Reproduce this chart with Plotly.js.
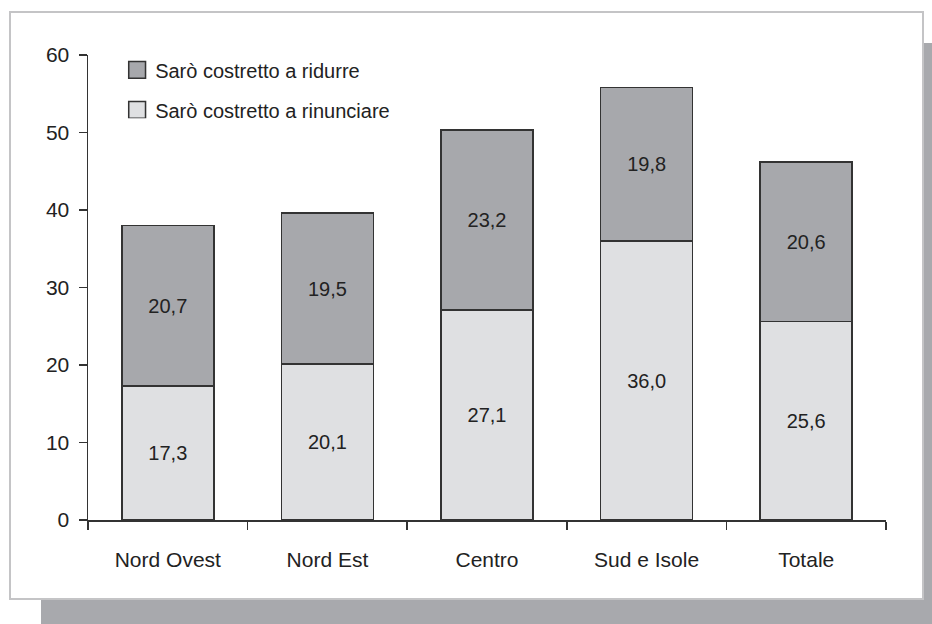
<!DOCTYPE html>
<html>
<head>
<meta charset="utf-8">
<script src="https://cdn.plot.ly/plotly-3.0.1.min.js"></script>
<style>
  html, body { margin: 0; padding: 0; background: #ffffff; }
  #wrap { position: relative; width: 932px; height: 624px; overflow: hidden; }
  #shadow { position: absolute; left: 41px; top: 43px; width: 891px; height: 581px; background: #a8a9ad; }
  #frame { position: absolute; left: 9px; top: 11px; width: 911px; height: 585px; background: #ffffff; border: 2px solid #c4c4c6; }
  #chart { position: absolute; left: 0; top: 0; width: 932px; height: 624px; }
</style>
</head>
<body>
<div id="wrap">
  <div id="shadow"></div>
  <div id="frame"></div>
  <div id="chart"></div>
</div>
<script>
const categories = ["Nord Ovest", "Nord Est", "Centro", "Sud e Isole", "Totale"];
const rinunciare = [17.3, 20.1, 27.1, 36.0, 25.6];
const ridurre = [20.7, 19.5, 23.2, 19.8, 20.6];
const seriesNames = ["Sarò costretto a rinunciare", "Sarò costretto a ridurre"];
const yTicks = [0, 10, 20, 30, 40, 50, 60];

const FONT = "Liberation Sans, Arial, Helvetica, sans-serif";
const common = {
  type: "bar",
  x: categories,
  texttemplate: "%{y:.1f}",
  textposition: "inside",
  insidetextanchor: "middle",
  textangle: 0,
  constraintext: "none",
  textfont: { family: FONT, size: 20, color: "#222222" },
  hoverinfo: "skip"
};

const traces = [
  Object.assign({}, common, {
    name: seriesNames[0],
    y: rinunciare,
    legendrank: 2,
    marker: { color: "#dfe0e2", line: { color: "#333333", width: 1.5 } }
  }),
  Object.assign({}, common, {
    name: seriesNames[1],
    y: ridurre,
    legendrank: 1,
    marker: { color: "#a7a8ac", line: { color: "#333333", width: 1.5 } }
  })
];

const layout = {
  width: 932,
  height: 624,
  margin: { l: 88, r: 46, t: 55, b: 104 },
  paper_bgcolor: "rgba(0,0,0,0)",
  plot_bgcolor: "rgba(0,0,0,0)",
  barmode: "stack",
  bargap: 0.423,
  separators: ",.",
  font: { family: FONT, size: 20, color: "#222222" },
  showlegend: true,
  legend: {
    x: 0.034, xanchor: "left",
    y: 1.01, yanchor: "top",
    traceorder: "normal",
    tracegroupgap: 0,
    bgcolor: "rgba(0,0,0,0)",
    font: { family: FONT, size: 20, color: "#222222" },
    itemclick: false
  },
  xaxis: {
    type: "category",
    range: [-0.5, 4.5],
    showline: true,
    linecolor: "#333333",
    linewidth: 1.5,
    ticks: "outside",
    tickson: "boundaries",
    ticklen: 8,
    tickwidth: 1.5,
    tickcolor: "#333333",
    ticklabelstandoff: 20,
    showgrid: false,
    zeroline: false,
    tickfont: { family: FONT, size: 21, color: "#222222" }
  },
  yaxis: {
    range: [0, 60],
    tickmode: "array",
    tickvals: yTicks,
    ticktext: yTicks.map(String),
    showline: true,
    linecolor: "#333333",
    linewidth: 1.5,
    ticks: "outside",
    ticklen: 8,
    tickwidth: 1.5,
    tickcolor: "#333333",
    ticklabelstandoff: 5,
    showgrid: false,
    zeroline: false,
    tickfont: { family: FONT, size: 21, color: "#222222" }
  }
};

Plotly.newPlot("chart", traces, layout, { displayModeBar: false, staticPlot: true }).then(function (gd) {
  // spread legend items and enlarge swatches to match the reference
  const items = gd.querySelectorAll(".legend .traces");
  if (items.length === 2) {
    items[1].setAttribute("transform", (items[1].getAttribute("transform") || "") + " translate(0,11)");
  }
  gd.querySelectorAll(".legend .legendpoints path").forEach(function (p) {
    p.setAttribute("transform", (p.getAttribute("transform") || "") + " translate(2,0) scale(1.4)");
    p.style.strokeWidth = "1.1px";
  });
});
</script>
</body>
</html>
